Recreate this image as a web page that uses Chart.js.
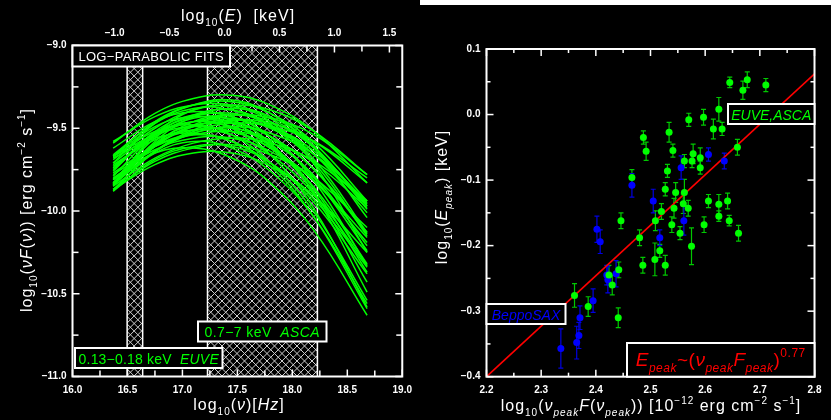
<!DOCTYPE html>
<html>
<head>
<meta charset="utf-8">
<script src="https://cdn.jsdelivr.net/npm/chart.js@4.4.1/dist/chart.umd.min.js"></script>
<style>
  html, body { margin: 0; padding: 0; background: #000; }
  #wrap { position: relative; width: 831px; height: 420px; background: #000; overflow: hidden; }
  .panel { position: absolute; top: 0; height: 420px; }
  #left { left: 0; width: 420px; }
  #right { left: 420px; width: 411px; }
  #strip { position: absolute; left: 420px; top: 0; width: 411px; height: 5px; background: #fff; }
</style>
</head>
<body>
<div id="wrap">
  <div class="panel" id="left"><canvas id="fitsChart" width="420" height="420"></canvas></div>
  <div class="panel" id="right"><canvas id="peakChart" width="411" height="420"></canvas></div>
  <div id="strip"></div>
</div>
<script>
// left panel: log-parabolic fits, sampled on a common frequency grid
const nuGrid = [16.37, 16.75, 17.1, 17.45, 17.8, 18.2, 18.68];
const fitCurves = [
  [-9.59, -9.41, -9.32, -9.30, -9.36, -9.52, -9.83],
  [-9.67, -9.46, -9.36, -9.34, -9.41, -9.59, -9.94],
  [-9.69, -9.50, -9.39, -9.36, -9.39, -9.52, -9.78],
  [-9.66, -9.47, -9.38, -9.39, -9.49, -9.71, -10.15],
  [-9.79, -9.54, -9.42, -9.39, -9.48, -9.69, -10.13],
  [-9.81, -9.60, -9.48, -9.42, -9.44, -9.54, -9.78],
  [-9.76, -9.52, -9.42, -9.43, -9.55, -9.82, -10.33],
  [-9.84, -9.60, -9.46, -9.42, -9.46, -9.62, -9.97],
  [-9.67, -9.49, -9.43, -9.47, -9.60, -9.87, -10.37],
  [-9.73, -9.55, -9.46, -9.44, -9.50, -9.66, -9.97],
  [-9.71, -9.53, -9.46, -9.46, -9.55, -9.75, -10.13],
  [-9.87, -9.64, -9.51, -9.45, -9.47, -9.58, -9.83],
  [-9.75, -9.54, -9.46, -9.50, -9.66, -9.99, -10.58],
  [-9.84, -9.61, -9.49, -9.47, -9.55, -9.75, -10.14],
  [-9.67, -9.52, -9.48, -9.54, -9.71, -10.01, -10.54],
  [-9.84, -9.64, -9.53, -9.49, -9.53, -9.66, -9.94],
  [-9.81, -9.60, -9.51, -9.52, -9.62, -9.86, -10.32],
  [-9.72, -9.57, -9.51, -9.54, -9.66, -9.90, -10.33],
  [-9.77, -9.61, -9.54, -9.52, -9.57, -9.71, -9.98],
  [-9.68, -9.56, -9.53, -9.58, -9.71, -9.95, -10.38],
  [-9.78, -9.63, -9.56, -9.56, -9.64, -9.82, -10.16],
  [-9.84, -9.65, -9.58, -9.62, -9.76, -10.04, -10.56],
  [-9.85, -9.68, -9.59, -9.56, -9.59, -9.70, -9.94],
  [-9.87, -9.70, -9.62, -9.60, -9.66, -9.80, -10.10],
  [-9.80, -9.65, -9.62, -9.68, -9.83, -10.12, -10.63],
  [-9.87, -9.72, -9.65, -9.65, -9.73, -9.91, -10.25],
  [-9.85, -9.58, -9.43, -9.38, -9.43, -9.61, -9.99],
  [-9.84, -9.54, -9.39, -9.37, -9.46, -9.72, -10.25],
  [-9.83, -9.56, -9.44, -9.45, -9.59, -9.90, -10.49],
  [-9.81, -9.61, -9.54, -9.58, -9.73, -10.04, -10.59],
  [-9.83, -9.64, -9.52, -9.47, -9.49, -9.58, -9.80],
  [-9.74, -9.53, -9.43, -9.41, -9.48, -9.66, -10.01],
  [-9.83, -9.59, -9.48, -9.49, -9.61, -9.89, -10.43],
  [-9.84, -9.61, -9.49, -9.45, -9.49, -9.64, -9.95],
  [-9.67, -9.54, -9.49, -9.52, -9.62, -9.82, -10.19],
  [-9.88, -9.64, -9.53, -9.50, -9.58, -9.79, -10.21],
  [-9.58, -9.43, -9.36, -9.36, -9.44, -9.62, -9.96],
  [-9.62, -9.46, -9.40, -9.43, -9.55, -9.80, -10.24],
  [-9.71, -9.47, -9.36, -9.33, -9.41, -9.62, -10.04],
  [-9.88, -9.69, -9.61, -9.61, -9.71, -9.93, -10.34]
];
const keVtoLogHz = 17.383;
const euveBandKeV = [0.13, 0.18];
const ascaBandKeV = [0.7, 7];
const energyTicks = [-1.25, -1.0, -0.75, -0.5, -0.25, 0, 0.25, 0.5, 0.75, 1.0, 1.25, 1.5];

// right panel: peak energy vs peak flux
const greenX = [2.645, 2.669, 2.677, 2.711, 2.625, 2.597, 2.570, 2.615, 2.631, 2.534, 2.487, 2.492, 2.541,
  2.562, 2.578, 2.576, 2.591, 2.591, 2.659, 2.531, 2.527, 2.546, 2.562, 2.606, 2.625, 2.641, 2.466, 2.560,
  2.543, 2.520, 2.569, 2.625, 2.644, 2.661, 2.598, 2.446, 2.509, 2.539, 2.554, 2.480, 2.575, 2.517, 2.508,
  2.486, 2.527, 2.424, 2.442, 2.430, 2.361, 2.386, 2.441];
const greenY = [0.049, 0.037, 0.053, 0.045, 0.008, -0.004, -0.008, -0.022, -0.022, -0.027, -0.035, -0.056, -0.055,
  -0.071, -0.060, -0.071, -0.066, -0.081, -0.050, -0.086, -0.114, -0.119, -0.119, -0.132, -0.137, -0.132, -0.096, -0.136,
  -0.143, -0.148, -0.143, -0.155, -0.162, -0.181, -0.168, -0.162, -0.162, -0.168, -0.181, -0.188, -0.201, -0.208, -0.221,
  -0.230, -0.230, -0.245, -0.237, -0.260, -0.276, -0.293, -0.310];
const greenErr = [0.008, 0.014, 0.012, 0.010, 0.018, 0.012, 0.010, 0.015, 0.010, 0.015, 0.010, 0.014, 0.010,
  0.010, 0.015, 0.010, 0.015, 0.010, 0.012, 0.010, 0.010, 0.015, 0.020, 0.010, 0.015, 0.012, 0.012, 0.015,
  0.015, 0.012, 0.012, 0.008, 0.008, 0.012, 0.012, 0.012, 0.015, 0.012, 0.010, 0.012, 0.028, 0.010, 0.025,
  0.012, 0.015, 0.015, 0.012, 0.015, 0.018, 0.015, 0.015];
const blueX = [2.606, 2.635, 2.556, 2.505, 2.466, 2.561, 2.402, 2.408, 2.517, 2.422, 2.437, 2.420, 2.395,
  2.371, 2.369, 2.365, 2.336];
const blueY = [-0.061, -0.071, -0.081, -0.132, -0.108, -0.162, -0.175, -0.194, -0.188, -0.252, -0.243, -0.245, -0.284,
  -0.310, -0.337, -0.348, -0.357];
const blueErr = [0.010, 0.012, 0.018, 0.018, 0.018, 0.022, 0.020, 0.018, 0.012, 0.020, 0.020, 0.015, 0.018,
  0.018, 0.020, 0.025, 0.030];
const fitX = [2.2, 2.8];
const fitY = [-0.4, 0.062];

const FONT = '"Liberation Sans", Arial, sans-serif';
const GREEN = '#00ff00';
const MINUS = '\u2212';

function isMult(v, step) {
  const q = v / step;
  return Math.abs(q - Math.round(q)) < 1e-6;
}
function fmt(v) {
  const s = Math.abs(v).toFixed(1);
  return (v < -1e-9 ? MINUS : '') + s;
}

// draws text pieces with italics / sub / superscripts
function drawRich(ctx, parts, x, y, opts) {
  const size = opts.size || 16;
  ctx.save();
  ctx.translate(x, y);
  if (opts.rotate) ctx.rotate(opts.rotate);
  ctx.fillStyle = opts.color || '#fff';
  ctx.letterSpacing = (opts.spacing ?? 1) + 'px';
  ctx.textBaseline = 'alphabetic';
  ctx.textAlign = 'left';
  const fontFor = f => {
    const small = f.includes('b') || f.includes('p');
    const s = small ? Math.round(size * 0.62) : size;
    return (f.includes('i') ? 'italic ' : '') + s + 'px ' + FONT;
  };
  let total = 0;
  const widths = parts.map(([t, f = '']) => {
    ctx.font = fontFor(f);
    const w = ctx.measureText(t).width;
    total += w;
    return w;
  });
  let cx = opts.align === 'left' ? 0 : -total / 2;
  parts.forEach(([t, f = ''], i) => {
    ctx.font = fontFor(f);
    const dy = f.includes('b') ? size * 0.3 : f.includes('p') ? -size * 0.45 : 0;
    ctx.fillText(t, cx, dy);
    cx += widths[i];
  });
  ctx.restore();
}

function drawBox(ctx, b) {
  ctx.save();
  ctx.fillStyle = '#000';
  ctx.fillRect(b.x0, b.y0, b.x1 - b.x0, b.y1 - b.y0);
  ctx.strokeStyle = '#fff';
  ctx.lineWidth = 2;
  ctx.strokeRect(b.x0, b.y0, b.x1 - b.x0, b.y1 - b.y0);
  ctx.restore();
  drawRich(ctx, b.parts, (b.x0 + b.x1) / 2, b.base, { size: b.size, color: b.color, spacing: b.spacing ?? 0 });
}

// inward tick marks + frame
function frameTicks(spec) {
  return {
    id: 'frameTicks',
    afterDatasetsDraw(chart) {
      const { ctx, chartArea: a } = chart;
      ctx.save();
      ctx.strokeStyle = '#fff';
      ctx.lineWidth = 1.5;
      spec.forEach(s => {
        const sc = chart.scales[s.id];
        sc.ticks.forEach(t => {
          if (!isMult(t.value, s.minor)) return;
          const len = isMult(t.value, s.major) ? s.long : s.short;
          const p = sc.getPixelForValue(t.value);
          ctx.beginPath();
          if (s.side === 'bottom') { ctx.moveTo(p, a.bottom); ctx.lineTo(p, a.bottom - len); }
          if (s.side === 'top') { ctx.moveTo(p, a.top); ctx.lineTo(p, a.top + len); }
          if (s.side === 'left') { ctx.moveTo(a.left, p); ctx.lineTo(a.left + len, p); }
          if (s.side === 'right') { ctx.moveTo(a.right, p); ctx.lineTo(a.right - len, p); }
          ctx.stroke();
        });
      });
      ctx.lineWidth = 2;
      ctx.strokeRect(a.left, a.top, a.right - a.left, a.bottom - a.top);
      ctx.restore();
    }
  };
}

function fixedSize(w, h) {
  return function (scale) {
    if (w != null) scale.width = w;
    if (h != null) scale.height = h;
  };
}

// ---------- left chart ----------
const hatchPlugin = {
  id: 'hatch',
  beforeDatasetsDraw(chart) {
    const { ctx, chartArea: a, scales } = chart;
    [euveBandKeV, ascaBandKeV].forEach(band => {
      const x0 = scales.x.getPixelForValue(Math.log10(band[0]) + keVtoLogHz);
      const x1 = scales.x.getPixelForValue(Math.log10(band[1]) + keVtoLogHz);
      ctx.save();
      ctx.beginPath();
      ctx.rect(x0, a.top, x1 - x0, a.bottom - a.top);
      ctx.clip();
      ctx.strokeStyle = '#cfcfcf';
      ctx.lineWidth = 1;
      const h = a.bottom - a.top;
      const sp = 7.5;
      ctx.beginPath();
      for (let s = x0 - h - sp; s < x1 + sp; s += sp) {
        ctx.moveTo(s, a.top); ctx.lineTo(s + h, a.bottom);
        ctx.moveTo(s + h, a.top); ctx.lineTo(s, a.bottom);
      }
      ctx.stroke();
      ctx.restore();
      ctx.save();
      ctx.strokeStyle = '#fff';
      ctx.lineWidth = 1.5;
      ctx.beginPath();
      ctx.moveTo(x0, a.top); ctx.lineTo(x0, a.bottom);
      ctx.moveTo(x1, a.top); ctx.lineTo(x1, a.bottom);
      ctx.stroke();
      ctx.restore();
    });
  }
};

const leftLabels = {
  id: 'leftLabels',
  afterDraw(chart) {
    const ctx = chart.ctx;
    drawBox(ctx, { x0: 72.5, y0: 45.5, x1: 230, y1: 66.5, base: 61, size: 13, color: '#fff', spacing: 0.3,
      parts: [['LOG' + MINUS + 'PARABOLIC FITS']] });
    drawBox(ctx, { x0: 198, y0: 321.5, x1: 326.5, y1: 341.5, base: 337, size: 14, color: GREEN, spacing: 0.4,
      parts: [['0.7' + MINUS + '7 keV  '], ['ASCA', 'i']] });
    drawBox(ctx, { x0: 75, y0: 348, x1: 222.5, y1: 368, base: 363.5, size: 14, color: GREEN, spacing: 0.2,
      parts: [['0.13' + MINUS + '0.18 keV  '], ['EUVE', 'i']] });
    drawRich(ctx, [['log'], ['10', 'b'], ['('], ['E', 'i'], [')  [keV]']], 238, 21, { size: 16 });
    drawRich(ctx, [['log'], ['10', 'b'], ['('], ['\u03bd', 'i'], [')['], ['Hz', 'i'], [']']], 239, 410, { size: 16 });
    drawRich(ctx, [['log'], ['10', 'b'], ['('], ['\u03bd', 'i'], ['F', 'i'], ['('], ['\u03bd', 'i'], [')) [erg cm'],
      [MINUS + '2', 'p'], [' s'], [MINUS + '1', 'p'], [']']], 32, 210, { size: 16, rotate: -Math.PI / 2 });
  }
};

const tickFont = { size: 10, weight: 'bold', family: FONT };

new Chart(document.getElementById('fitsChart'), {
  type: 'line',
  data: {
    datasets: fitCurves.map(vals => ({
      data: nuGrid.map((nu, i) => ({ x: nu, y: vals[i] })),
      borderColor: GREEN,
      borderWidth: 1.5,
      pointRadius: 0,
      tension: 0.4,
      fill: false
    }))
  },
  options: {
    responsive: false,
    animation: false,
    layout: { padding: 0 },
    plugins: { legend: { display: false }, tooltip: { enabled: false } },
    scales: {
      x: {
        type: 'linear', position: 'bottom', min: 16, max: 19,
        grid: { display: false, drawTicks: false }, border: { display: false },
        ticks: { stepSize: 0.25, autoSkip: false, maxRotation: 0, padding: 8, color: '#fff', font: tickFont,
          callback: v => isMult(v, 0.5) ? v.toFixed(1) : '' },
        afterFit: fixedSize(null, 43.5)
      },
      xTop: {
        type: 'linear', position: 'top', min: 16 - keVtoLogHz, max: 19 - keVtoLogHz,
        grid: { display: false, drawTicks: false }, border: { display: false },
        afterBuildTicks: scale => { scale.ticks = energyTicks.map(v => ({ value: v })); },
        ticks: { autoSkip: false, maxRotation: 0, padding: 6, color: '#fff', font: tickFont,
          callback: v => isMult(v, 0.5) ? fmt(v) : '' },
        afterFit: fixedSize(null, 45.5)
      },
      y: {
        type: 'linear', position: 'left', min: -11, max: -9,
        grid: { display: false, drawTicks: false }, border: { display: false },
        ticks: { stepSize: 0.25, autoSkip: false, padding: 6, color: '#fff', font: tickFont,
          callback: v => isMult(v, 0.5) ? fmt(v) : '' },
        afterFit: fixedSize(72.5, null)
      },
      yRight: {
        type: 'linear', position: 'right', min: -11, max: -9,
        grid: { display: false, drawTicks: false }, border: { display: false },
        ticks: { stepSize: 0.25, display: false },
        afterFit: fixedSize(17.5, null)
      }
    }
  },
  plugins: [hatchPlugin, frameTicks([
    { id: 'x', side: 'bottom', minor: 0.25, major: 0.5, long: 7, short: 6 },
    { id: 'xTop', side: 'top', minor: 0.25, major: 0.5, long: 7, short: 6 },
    { id: 'y', side: 'left', minor: 0.25, major: 0.5, long: 7, short: 6 },
    { id: 'yRight', side: 'right', minor: 0.25, major: 0.5, long: 7, short: 6 }
  ]), leftLabels]
});

// ---------- right chart ----------
const errorBars = {
  id: 'errorBars',
  beforeDatasetsDraw(chart) {
    const { ctx, scales } = chart;
    const sets = [[greenX, greenY, greenErr, '#00c800'], [blueX, blueY, blueErr, '#0000e0']];
    ctx.save();
    ctx.lineWidth = 1.2;
    sets.forEach(([xs, ys, es, col]) => {
      ctx.strokeStyle = col;
      xs.forEach((xv, i) => {
        const px = scales.x.getPixelForValue(xv);
        const pLo = scales.y.getPixelForValue(ys[i] - es[i]);
        const pHi = scales.y.getPixelForValue(ys[i] + es[i]);
        ctx.beginPath();
        ctx.moveTo(px, pLo); ctx.lineTo(px, pHi);
        ctx.moveTo(px - 2.5, pLo); ctx.lineTo(px + 2.5, pLo);
        ctx.moveTo(px - 2.5, pHi); ctx.lineTo(px + 2.5, pHi);
        ctx.stroke();
      });
    });
    ctx.restore();
  }
};

const rightLabels = {
  id: 'rightLabels',
  afterDraw(chart) {
    const ctx = chart.ctx;
    drawBox(ctx, { x0: 308, y0: 104, x1: 394.5, y1: 124, base: 119.5, size: 14, color: GREEN,
      parts: [['EUVE,ASCA', 'i']] });
    drawBox(ctx, { x0: 66.5, y0: 304, x1: 145.5, y1: 324, base: 319.5, size: 14, color: '#0000ff',
      parts: [['BeppoSAX', 'i']] });
    drawBox(ctx, { x0: 207, y0: 343, x1: 394.5, y1: 376.7, base: 366, size: 19, color: '#ff0000', spacing: 0.5,
      parts: [['E', 'i'], ['peak', 'bi'], ['~('], ['\u03bd', 'i'], ['peak', 'bi'], ['F', 'i'], ['peak', 'bi'], [')'], ['0.77', 'p']] });
    drawRich(ctx, [['log'], ['10', 'b'], ['('], ['\u03bd', 'i'], ['peak', 'bi'], ['F', 'i'], ['('], ['\u03bd', 'i'], ['peak', 'bi'],
      [')) [10'], [MINUS + '12', 'p'], [' erg cm'], [MINUS + '2', 'p'], [' s'], [MINUS + '1', 'p'], [']']], 231, 411, { size: 16 });
    drawRich(ctx, [['log'], ['10', 'b'], ['('], ['E', 'i'], ['peak', 'bi'], [') [keV]']], 27, 197, { size: 16, rotate: -Math.PI / 2 });
  }
};

new Chart(document.getElementById('peakChart'), {
  type: 'scatter',
  data: {
    datasets: [
      {
        data: greenX.map((x, i) => ({ x, y: greenY[i] })),
        backgroundColor: GREEN, borderWidth: 0, pointRadius: 3.5, order: 1
      },
      {
        data: blueX.map((x, i) => ({ x, y: blueY[i] })),
        backgroundColor: '#0000ff', borderWidth: 0, pointRadius: 3.5, order: 2
      },
      {
        data: fitX.map((x, i) => ({ x, y: fitY[i] })),
        showLine: true, borderColor: '#ff0000', borderWidth: 1.6, pointRadius: 0, order: 3
      }
    ]
  },
  options: {
    responsive: false,
    animation: false,
    layout: { padding: 0 },
    plugins: { legend: { display: false }, tooltip: { enabled: false } },
    scales: {
      x: {
        type: 'linear', position: 'bottom', min: 2.2, max: 2.8,
        grid: { display: false, drawTicks: false }, border: { display: false },
        ticks: { stepSize: 0.05, autoSkip: false, maxRotation: 0, padding: 8, color: '#fff', font: tickFont,
          callback: v => isMult(v, 0.1) ? v.toFixed(1) : '' },
        afterFit: fixedSize(null, 43.3)
      },
      xTop: {
        type: 'linear', position: 'top', min: 2.2, max: 2.8,
        grid: { display: false, drawTicks: false }, border: { display: false },
        ticks: { stepSize: 0.05, display: false },
        afterFit: fixedSize(null, 49)
      },
      y: {
        type: 'linear', position: 'left', min: -0.4, max: 0.1,
        grid: { display: false, drawTicks: false }, border: { display: false },
        ticks: { stepSize: 0.05, autoSkip: false, padding: 6, color: '#fff', font: tickFont,
          callback: v => isMult(v, 0.1) ? fmt(v) : '' },
        afterFit: fixedSize(66.5, null)
      },
      yRight: {
        type: 'linear', position: 'right', min: -0.4, max: 0.1,
        grid: { display: false, drawTicks: false }, border: { display: false },
        ticks: { stepSize: 0.05, display: false },
        afterFit: fixedSize(16.5, null)
      }
    }
  },
  plugins: [errorBars, frameTicks([
    { id: 'x', side: 'bottom', minor: 0.05, major: 0.1, long: 7, short: 4 },
    { id: 'xTop', side: 'top', minor: 0.05, major: 0.1, long: 7, short: 4 },
    { id: 'y', side: 'left', minor: 0.05, major: 0.1, long: 7, short: 4 },
    { id: 'yRight', side: 'right', minor: 0.05, major: 0.1, long: 7, short: 4 }
  ]), rightLabels]
});
</script>
</body>
</html>
